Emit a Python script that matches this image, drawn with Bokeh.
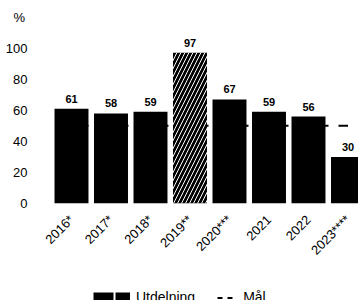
import math
from bokeh.plotting import figure
from bokeh.layouts import column
from bokeh.models import ColumnDataSource, Legend, LegendItem, FixedTicker
from bokeh.embed import file_html
from bokeh.resources import INLINE
from bokeh.core.properties import value

# ---- data ----
years = ["2016*", "2017*", "2018*", "2019**", "2020***", "2021", "2022", "2023****"]
utdelning = [61, 58, 59, 97, 67, 59, 56, 30]
maal = [50, 50, 50, 50, 50, 50, 50, 50]
hatched = [False, False, False, True, False, False, False, False]
y_ticks = [0, 20, 40, 60, 80, 100]

xs = list(range(len(years)))
FONT = "Liberation Sans"

solid = ColumnDataSource(dict(
    x=[x for x, h in zip(xs, hatched) if not h],
    top=[v for v, h in zip(utdelning, hatched) if not h],
))
hatch = ColumnDataSource(dict(
    x=[x for x, h in zip(xs, hatched) if h],
    top=[v for v, h in zip(utdelning, hatched) if h],
))
labels = ColumnDataSource(dict(x=xs, y=utdelning, t=[str(v) for v in utdelning]))

p = figure(width=358, height=265, x_range=(-0.481, 7.266), y_range=(0, 112),
           output_backend="svg", toolbar_location=None,
           min_border_left=52, min_border_right=0, min_border_top=29, min_border_bottom=59)
p.outline_line_color = None
p.grid.visible = False
p.background_fill_color = "white"
p.border_fill_color = "white"

p.title.text = "%"
p.title.align = "left"
p.title.offset = -39
p.title.standoff = 10
p.title.text_font = FONT
p.title.text_font_size = "13px"
p.title.text_font_style = "normal"
p.title.text_color = "black"

# y axis
p.yaxis.ticker = FixedTicker(ticks=y_ticks)
p.yaxis.axis_line_color = None
p.yaxis.major_tick_line_color = None
p.yaxis.minor_tick_line_color = None
p.yaxis.major_label_standoff = 19
p.yaxis.major_label_text_font = FONT
p.yaxis.major_label_text_font_size = "13px"
p.yaxis.major_label_text_color = "black"

# x axis
p.xaxis.ticker = FixedTicker(ticks=xs)
p.xaxis.major_label_overrides = {x: y for x, y in zip(xs, years)}
p.xaxis.major_label_orientation = math.pi / 4
p.xaxis.axis_line_color = None
p.xaxis.major_tick_line_color = None
p.xaxis.minor_tick_line_color = None
p.xaxis.major_label_standoff = 8
p.xaxis.major_label_text_font = FONT
p.xaxis.major_label_text_font_size = "13px"
p.xaxis.major_label_text_color = "black"

# target line
p.line(xs, maal, line_color="black", line_width=2, line_dash="10 10", line_dash_offset=13)

# bars
p.vbar(x="x", top="top", width=0.86, source=solid, fill_color="black", line_color=None)
p.vbar(x="x", top="top", width=0.86, source=hatch, fill_color="black", line_color=None,
       hatch_pattern="/", hatch_color="white", hatch_scale=8, hatch_weight=1)

p.text(x="x", y="y", text="t", source=labels, text_align="center", text_baseline="bottom",
       y_offset=-6, text_font=value(FONT), text_font_style="bold", text_font_size="11px",
       text_color="black")

# legend strip (second figure, legend inside its frame)
lg = figure(width=358, height=35, x_range=(0, 1), y_range=(0, 1),
            output_backend="svg", toolbar_location=None,
            min_border_left=0, min_border_right=0, min_border_top=0, min_border_bottom=0)
lg.axis.visible = False
lg.grid.visible = False
lg.outline_line_color = None
# proxy renderers for the legend, placed outside the visible range
r1 = lg.line(x=[-2, -1], y=[-2, -2], line_color="black", line_width=11, line_dash="20 2 15")
r2 = lg.line(x=[-2, -1], y=[-2, -2], line_color="black", line_width=2, line_dash="0 17 5 5 5 5")
legend = Legend(items=[LegendItem(label="Utdelning", renderers=[r1]),
                       LegendItem(label="Mål", renderers=[r2])],
                orientation="horizontal", glyph_width=37, glyph_height=11, label_height=11,
                label_standoff=6, spacing=5, padding=0, margin=0,
                border_line_color=None, background_fill_alpha=0,
                label_text_font=FONT, label_text_font_size="14px", label_text_color="black",
                location=(41, -5))
lg.add_layout(legend, "center")

layout = column(p, lg, spacing=0)
open("out.html", "w").write(file_html(layout, INLINE))
